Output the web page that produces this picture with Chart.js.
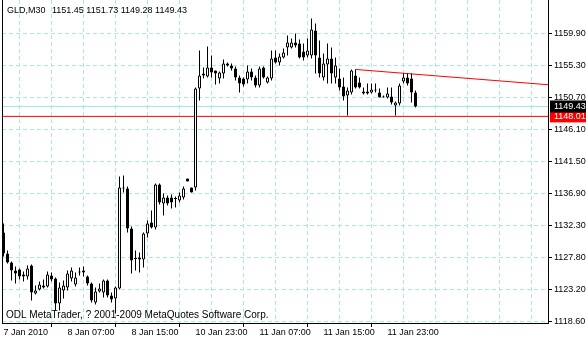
<!DOCTYPE html>
<html><head><meta charset="utf-8">
<script src="https://cdn.jsdelivr.net/npm/chart.js@4/dist/chart.umd.min.js"></script>
<style>html,body{margin:0;padding:0;background:#fff;overflow:hidden}canvas{display:block}</style>
</head><body>
<canvas id="c" width="586" height="340"></canvas>
<script>
const symbolLabel = 'GLD,M30';
const copyrightText = 'ODL MetaTrader, ? 2001-2009 MetaQuotes Software Corp.';

const opens = [1131.36,1128.35,1127.06,1125.91,1126.06,1125.34,1125.05,1126.63,1122.61,1123.19,
1123.47,1123.62,1125.19,1124.76,1121.18,1123.04,1123.47,1124.76,1123.90,1125.63,
1125.63,1125.05,1124.05,1121.32,1122.90,1122.76,1124.48,1122.33,1121.90,1123.33,
1137.81,1137.67,1131.93,1127.63,1127.49,1127.49,1131.22,1132.80,1132.08,1138.24,
1135.52,1136.38,1136.38,1136.24,1135.95,1136.38,1139.10,1137.81,1137.81,1152.01,
1153.87,1153.73,1155.02,1154.59,1153.44,1154.16,1155.60,1155.31,1154.88,1153.59,
1153.44,1153.30,1154.45,1153.59,1152.44,1155.02,1152.87,1153.44,1156.46,1155.74,
1156.46,1157.89,1157.89,1158.61,1158.46,1157.32,1156.74,1156.74,1160.33,1156.46,
1153.59,1155.45,1156.31,1153.59,1153.44,1152.30,1151.01,1151.44,1153.87,1152.87,
1151.29,1151.58,1151.44,1151.72,1151.44,1150.86,1150.72,1150.86,1149.57,1149.86,
1153.01,1153.59,1153.44,1151.45];
const highs = [1132.65,1128.78,1127.20,1126.49,1126.20,1125.77,1126.63,1126.77,1123.76,1124.33,
1124.62,1125.77,1125.63,1124.91,1124.19,1124.48,1125.91,1126.34,1125.63,1126.34,
1126.49,1125.19,1124.19,1123.47,1124.05,1124.62,1124.62,1122.76,1123.62,1139.39,
1139.53,1137.96,1132.22,1128.78,1128.49,1131.36,1133.08,1134.52,1138.39,1138.39,
1136.95,1136.67,1136.81,1136.52,1137.10,1137.96,1139.10,1137.81,1152.15,1157.46,
1155.02,1158.03,1156.74,1154.59,1154.45,1156.17,1155.74,1155.60,1155.17,1153.87,
1153.59,1155.31,1154.88,1153.87,1155.17,1155.17,1153.73,1157.46,1157.46,1157.03,
1157.75,1159.61,1159.18,1159.90,1159.04,1158.46,1159.18,1162.05,1161.33,1158.89,
1157.03,1158.46,1157.89,1156.46,1154.88,1153.59,1152.15,1154.74,1154.74,1153.59,
1152.15,1152.73,1152.73,1152.73,1152.01,1151.01,1152.15,1152.15,1150.14,1152.73,
1154.16,1154.16,1154.16,1151.73];
const lows = [1127.92,1126.92,1124.48,1124.05,1124.62,1124.33,1124.62,1121.61,1122.47,1123.04,
1123.33,1123.47,1124.33,1120.18,1120.18,1121.90,1123.04,1124.33,1123.62,1125.19,
1125.05,1123.76,1121.32,1121.04,1122.76,1122.04,1122.04,1121.32,1119.75,1123.19,
1137.10,1131.36,1125.48,1125.91,1125.63,1126.34,1130.64,1131.93,1131.79,1135.38,
1133.80,1135.23,1134.80,1134.95,1135.66,1136.09,1138.67,1137.10,1137.38,1150.29,
1153.44,1153.59,1153.59,1152.58,1152.73,1153.44,1155.17,1154.59,1153.16,1151.44,
1152.30,1152.73,1153.16,1152.15,1152.15,1153.44,1152.73,1153.16,1155.60,1155.31,
1156.31,1156.74,1157.75,1157.89,1156.31,1156.03,1156.46,1156.31,1154.16,1153.59,
1153.16,1152.73,1152.73,1152.73,1151.72,1150.29,1148.14,1151.15,1152.01,1152.01,
1151.15,1151.15,1151.29,1151.44,1150.72,1150.72,1150.58,1149.72,1148.14,1149.57,
1152.73,1152.44,1150.00,1149.28];
const closes = [1128.35,1127.06,1125.91,1125.48,1125.05,1125.05,1126.20,1122.76,1123.04,1123.90,
1123.76,1125.34,1124.62,1121.18,1123.47,1123.76,1125.48,1125.91,1124.91,1125.77,
1125.91,1124.05,1121.61,1122.90,1123.33,1124.48,1122.33,1121.75,1123.47,1137.81,
1137.67,1131.93,1127.35,1127.56,1127.78,1131.22,1132.65,1132.08,1138.24,1135.66,
1136.38,1135.52,1135.66,1136.17,1136.67,1137.67,1138.67,1137.10,1152.01,1153.87,
1154.16,1155.02,1154.31,1154.16,1154.31,1155.60,1155.31,1154.88,1153.59,1152.73,
1152.58,1154.45,1153.59,1152.44,1154.88,1153.59,1153.59,1156.31,1155.74,1156.60,
1157.17,1158.61,1158.61,1158.18,1156.46,1156.46,1157.46,1160.47,1156.74,1154.16,
1155.60,1156.31,1154.16,1155.31,1152.15,1150.86,1151.72,1154.59,1152.15,1152.15,
1151.58,1151.29,1151.87,1151.87,1150.72,1150.72,1151.29,1150.00,1150.00,1152.44,
1153.59,1152.73,1151.44,1149.43];

const xTickBars = [0,8,16,24,32,40,48,56,64,72,80,88,96,104,112,120,128];
const xTickLabels = ['7 Jan 2010','','8 Jan 07:00','','8 Jan 15:00','','10 Jan 23:00','','11 Jan 07:00','','11 Jan 15:00','','11 Jan 23:00','','','',''];
const yTickValues = [1118.6,1123.2,1127.8,1132.3,1136.9,1141.5,1146.1,1150.7,1155.3,1159.9];
const bidLevel = 1149.43;
const redLevel = 1148.01;
const trendBars = [88, 136.125];
const trendValues = [1154.74, 1152.55];

const FONT = "'Liberation Sans', Arial, sans-serif";
const GRID = '#aee4e4';
const CLEAR = 'rgba(0,0,0,0)';
const xMin = -0.375, xMax = 136.125;
const yMax = 1164.70, yMin = 1164.70 - 323 / 6.9734;

const bodies = opens.map((o, i) => ({x: i, y: [o, closes[i]]}));
const wicks = opens.map((o, i) => ({x: i, y: [lows[i], highs[i]]}));
const bodyFill = opens.map((o, i) => closes[i] >= o ? '#ffffff' : '#000000');
const isSpecial = ctx => !!(ctx && ctx.tick && (ctx.tick.value === bidLevel || ctx.tick.value === redLevel));

const overlay = {
  id: 'overlay',
  afterDraw(chart) {
    const ctx = chart.ctx;
    const n = opens.length - 1;
    ctx.save();
    ctx.fillStyle = '#000';
    ctx.fillRect(2, 0, 1, 324);
    ctx.textBaseline = 'alphabetic';
    ctx.textAlign = 'left';
    ctx.font = '9px ' + FONT;
    ctx.fillText(symbolLabel, 7, 13);
    ctx.fillText([opens[n], highs[n], lows[n], closes[n]].map(v => v.toFixed(2)).join(' '), 52, 13);
    ctx.font = '10px ' + FONT;
    ctx.fillText(copyrightText, 6, 318);
    ctx.restore();
  }
};

new Chart(document.getElementById('c'), {
  type: 'bar',
  data: {
    datasets: [
      {type: 'bar', data: bodies, backgroundColor: bodyFill, borderColor: '#000', borderWidth: 1,
       borderSkipped: false, barThickness: 3, grouped: false, minBarLength: 1, inflateAmount: 0, order: 0},
      {type: 'bar', data: wicks, backgroundColor: '#000', borderWidth: 0, barThickness: 1,
       grouped: false, inflateAmount: 0, order: 1},
      {type: 'line', data: trendBars.map((x, i) => ({x, y: trendValues[i]})), borderColor: '#ff0000',
       borderWidth: 1, pointRadius: 0, tension: 0, order: 2},
      {type: 'line', data: [{x: xMin, y: bidLevel}, {x: xMax, y: bidLevel}], borderColor: '#9ee6ee',
       borderWidth: 1, pointRadius: 0, order: 3},
      {type: 'line', data: [{x: xMin, y: redLevel}, {x: xMax, y: redLevel}], borderColor: '#ff0000',
       borderWidth: 1, pointRadius: 0, order: 3}
    ]
  },
  options: {
    responsive: false,
    devicePixelRatio: 1,
    animation: false,
    events: [],
    layout: {padding: {left: 2, top: 0, right: 0, bottom: 0}},
    plugins: {legend: {display: false}, tooltip: {enabled: false}, title: {display: false}},
    scales: {
      x: {
        type: 'linear', min: xMin, max: xMax, position: 'bottom', offset: false,
        afterBuildTicks: s => { s.ticks = xTickBars.map(v => ({value: v})); },
        afterFit: s => { s.height = 17; s.paddingLeft = 0; s.paddingRight = 0; },
        ticks: {autoSkip: false, maxRotation: 0, minRotation: 0, align: 'start', padding: 1,
          color: '#000', font: {family: FONT, size: 9, lineHeight: 1},
          callback: (v, i) => xTickLabels[i] || ''},
        grid: {color: GRID, lineWidth: 1, drawTicks: true, tickLength: 4, tickWidth: 1,
          tickColor: ctx => (xTickLabels[ctx.index] ? '#000' : CLEAR)},
        border: {display: true, color: '#000', width: 1, dash: [4, 3]}
      },
      y: {
        type: 'linear', position: 'right', min: yMin, max: yMax,
        afterBuildTicks: s => { s.ticks = yTickValues.concat([redLevel, bidLevel]).map(v => ({value: v})); },
        afterFit: s => { s.width = 38; s.paddingTop = 0; s.paddingBottom = 0; },
        ticks: {autoSkip: false, padding: 2, font: {family: FONT, size: 9, lineHeight: 1},
          color: ctx => isSpecial(ctx) ? '#fff' : '#000',
          showLabelBackdrop: ctx => isSpecial(ctx),
          backdropColor: ctx => (ctx.tick && ctx.tick.value === bidLevel) ? '#000' : '#ff0000',
          backdropPadding: {top: 1.5, bottom: 1.5, left: 4, right: 6},
          callback: v => Number(v).toFixed(2)},
        grid: {color: ctx => isSpecial(ctx) ? CLEAR : GRID, lineWidth: 1, tickLength: 4, tickWidth: 1,
          tickColor: ctx => isSpecial(ctx) ? CLEAR : '#000'},
        border: {display: true, color: '#000', width: 1, dash: [4, 3]}
      }
    }
  },
  plugins: [overlay]
});
</script>
</body></html>
